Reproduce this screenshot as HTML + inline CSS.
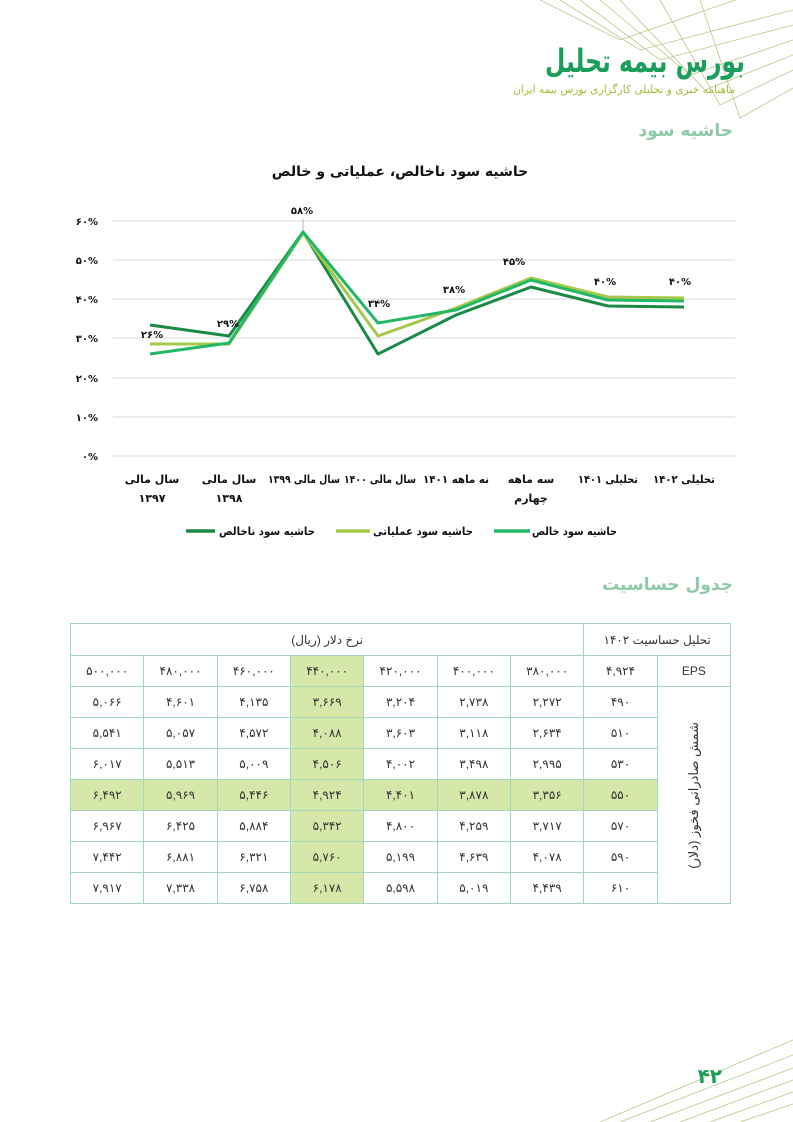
<!DOCTYPE html>
<html><head><meta charset="utf-8"><style>
body{margin:0;width:793px;height:1122px;background:#fff;position:relative;overflow:hidden;font-family:"Liberation Sans","Noto Sans CJK SC","DejaVu Sans",sans-serif}
.abs{position:absolute}
table{border-collapse:collapse;position:absolute;left:70px;top:623px;width:661px;table-layout:fixed;font-size:12px;color:#333}
td{border:1px solid #a6d6bb;text-align:center;height:30px;padding:0}
.hl{background:#d6e8a9}
</style></head><body>
<svg class="abs" style="left:0;top:0" width="793" height="1122">
<g fill="none" stroke="#b7c98a" stroke-width="0.8">
<polyline points="540,0 620,40 793,-20"/>
<polyline points="560,0 640,50 793,10"/>
<polyline points="580,0 660,60 793,25"/>
<polyline points="600,0 690,75 793,40"/>
<polyline points="620,0 705,90 793,55"/>
<polyline points="660,0 720,105 793,70"/>
<polyline points="700,0 740,118 793,88"/>
</g>
<g fill="none" stroke="#b7c98a" stroke-width="0.8">
<line x1="600" y1="1122" x2="793" y2="1040"/>
<line x1="620" y1="1122" x2="793" y2="1055"/>
<line x1="650" y1="1122" x2="793" y2="1068"/>
<line x1="680" y1="1122" x2="793" y2="1080"/>
<line x1="710" y1="1122" x2="793" y2="1092"/>
<line x1="740" y1="1122" x2="793" y2="1104"/>
</g>
<text x="745" y="72" text-anchor="end" font-size="32" font-weight="bold" fill="#1b9d5c" textLength="200" lengthAdjust="spacingAndGlyphs" font-family="DejaVu Sans, sans-serif">بورس بیمه تحلیل</text>
<text x="735" y="93" text-anchor="end" font-size="11" fill="#a8b93a" textLength="222" lengthAdjust="spacingAndGlyphs" font-family="DejaVu Sans, sans-serif">ماهنامه خبری و تحلیلی کارگزاری بورس بیمه ایران</text>
<text x="733" y="136" text-anchor="end" font-size="17" font-weight="bold" fill="#8fcaa8" font-family="DejaVu Sans, sans-serif">حاشیه سود</text>
<text x="400" y="176" text-anchor="middle" font-size="14" font-weight="bold" fill="#111" font-family="DejaVu Sans, sans-serif">حاشیه سود ناخالص، عملیاتی و خالص</text>
<g stroke="#d9d9d9" stroke-width="1">
<line x1="113" x2="735" y1="221" y2="221"/><line x1="113" x2="735" y1="260" y2="260"/>
<line x1="113" x2="735" y1="299" y2="299"/><line x1="113" x2="735" y1="338" y2="338"/>
<line x1="113" x2="735" y1="378" y2="378"/><line x1="113" x2="735" y1="417" y2="417"/>
<line x1="113" x2="735" y1="456" y2="456"/>
</g>
<g font-size="10" font-weight="bold" fill="#111" text-anchor="end" font-family="DejaVu Sans, sans-serif">
<text x="98" y="225">۶۰%</text><text x="98" y="264">۵۰%</text><text x="98" y="303">۴۰%</text>
<text x="98" y="342">۳۰%</text><text x="98" y="382">۲۰%</text><text x="98" y="421">۱۰%</text><text x="98" y="460">۰%</text>
</g>
<g fill="none" stroke-width="3" stroke-linejoin="round">
<polyline stroke="#1a8a44" points="150,325 229,336 303,232 378,354 456,315 531,287 608,306 684,307"/>
<polyline stroke="#a6c84a" points="150,344 229,344 303,233 378,336 456,308 531,278 608,297 684,298"/>
<polyline stroke="#22b866" points="150,354 229,343 303,232 378,323 456,310 531,280 608,300 684,301"/>
</g>
<line x1="303" y1="219" x2="303" y2="232" stroke="#888" stroke-width="0.6"/>
<g font-size="10" font-weight="bold" fill="#111" text-anchor="middle" font-family="DejaVu Sans, sans-serif">
<text x="152" y="338">۲۶%</text><text x="228" y="327">۲۹%</text><text x="302" y="214">۵۸%</text>
<text x="379" y="307">۳۴%</text><text x="454" y="293">۳۸%</text><text x="514" y="265">۴۵%</text>
<text x="605" y="285">۴۰%</text><text x="680" y="285">۴۰%</text>
</g>
<g font-size="11" font-weight="bold" fill="#111" text-anchor="middle" font-family="DejaVu Sans, sans-serif">
<text x="152" y="483">سال مالی</text><text x="152" y="502">۱۳۹۷</text>
<text x="229" y="483">سال مالی</text><text x="229" y="502">۱۳۹۸</text>
<text x="304" y="483" textLength="72" lengthAdjust="spacingAndGlyphs">سال مالی ۱۳۹۹</text>
<text x="380" y="483" textLength="72" lengthAdjust="spacingAndGlyphs">سال مالی ۱۴۰۰</text>
<text x="456" y="483" textLength="66" lengthAdjust="spacingAndGlyphs">نه ماهه ۱۴۰۱</text>
<text x="531" y="483">سه ماهه</text><text x="531" y="502">چهارم</text>
<text x="608" y="483" textLength="60" lengthAdjust="spacingAndGlyphs">تحلیلی ۱۴۰۱</text>
<text x="684" y="483" textLength="62" lengthAdjust="spacingAndGlyphs">تحلیلی ۱۴۰۲</text>
</g>
<g stroke-width="3.5">
<line x1="186" x2="215" y1="531" y2="531" stroke="#1a8a44"/>
<line x1="336" x2="370" y1="531" y2="531" stroke="#a6c84a"/>
<line x1="494" x2="530" y1="531" y2="531" stroke="#22b866"/>
</g>
<g font-size="11" font-weight="bold" fill="#111" text-anchor="end" font-family="DejaVu Sans, sans-serif">
<text x="315" y="535" textLength="96" lengthAdjust="spacingAndGlyphs">حاشیه سود ناخالص</text>
<text x="473" y="535" textLength="100" lengthAdjust="spacingAndGlyphs">حاشیه سود عملیاتی</text>
<text x="617" y="535" textLength="85" lengthAdjust="spacingAndGlyphs">حاشیه سود خالص</text>
</g>
<text x="733" y="590" text-anchor="end" font-size="17" font-weight="bold" fill="#8fcaa8" font-family="DejaVu Sans, sans-serif">جدول حساسیت</text>
<text x="722" y="1083" text-anchor="end" font-size="20" font-weight="bold" fill="#1b9d5c" font-family="DejaVu Sans, sans-serif">۴۲</text>
</svg>
<table dir="rtl">
<tr><td colspan="2" style="height:31px">تحلیل حساسیت ۱۴۰۲</td><td colspan="7">نرخ دلار (ریال)</td></tr>
<tr><td>EPS</td><td>۴,۹۲۴</td><td>۳۸۰,۰۰۰</td><td>۴۰۰,۰۰۰</td><td>۴۲۰,۰۰۰</td><td class="hl">۴۴۰,۰۰۰</td><td>۴۶۰,۰۰۰</td><td>۴۸۰,۰۰۰</td><td>۵۰۰,۰۰۰</td></tr>
<tr><td rowspan="7"><div style="writing-mode:vertical-rl;transform:rotate(180deg);margin:auto;font-size:13px">شمش صادراتی فخوز (دلار)</div></td><td>۴۹۰</td><td>۲,۲۷۲</td><td>۲,۷۳۸</td><td>۳,۲۰۴</td><td class="hl">۳,۶۶۹</td><td>۴,۱۳۵</td><td>۴,۶۰۱</td><td>۵,۰۶۶</td></tr>
<tr><td>۵۱۰</td><td>۲,۶۳۴</td><td>۳,۱۱۸</td><td>۳,۶۰۳</td><td class="hl">۴,۰۸۸</td><td>۴,۵۷۲</td><td>۵,۰۵۷</td><td>۵,۵۴۱</td></tr>
<tr><td>۵۳۰</td><td>۲,۹۹۵</td><td>۳,۴۹۸</td><td>۴,۰۰۲</td><td class="hl">۴,۵۰۶</td><td>۵,۰۰۹</td><td>۵,۵۱۳</td><td>۶,۰۱۷</td></tr>
<tr class="hl"><td>۵۵۰</td><td>۳,۳۵۶</td><td>۳,۸۷۸</td><td>۴,۴۰۱</td><td>۴,۹۲۴</td><td>۵,۴۴۶</td><td>۵,۹۶۹</td><td>۶,۴۹۲</td></tr>
<tr><td>۵۷۰</td><td>۳,۷۱۷</td><td>۴,۲۵۹</td><td>۴,۸۰۰</td><td class="hl">۵,۳۴۲</td><td>۵,۸۸۴</td><td>۶,۴۲۵</td><td>۶,۹۶۷</td></tr>
<tr><td>۵۹۰</td><td>۴,۰۷۸</td><td>۴,۶۳۹</td><td>۵,۱۹۹</td><td class="hl">۵,۷۶۰</td><td>۶,۳۲۱</td><td>۶,۸۸۱</td><td>۷,۴۴۲</td></tr>
<tr><td>۶۱۰</td><td>۴,۴۳۹</td><td>۵,۰۱۹</td><td>۵,۵۹۸</td><td class="hl">۶,۱۷۸</td><td>۶,۷۵۸</td><td>۷,۳۳۸</td><td>۷,۹۱۷</td></tr>
</table>
</body></html>
